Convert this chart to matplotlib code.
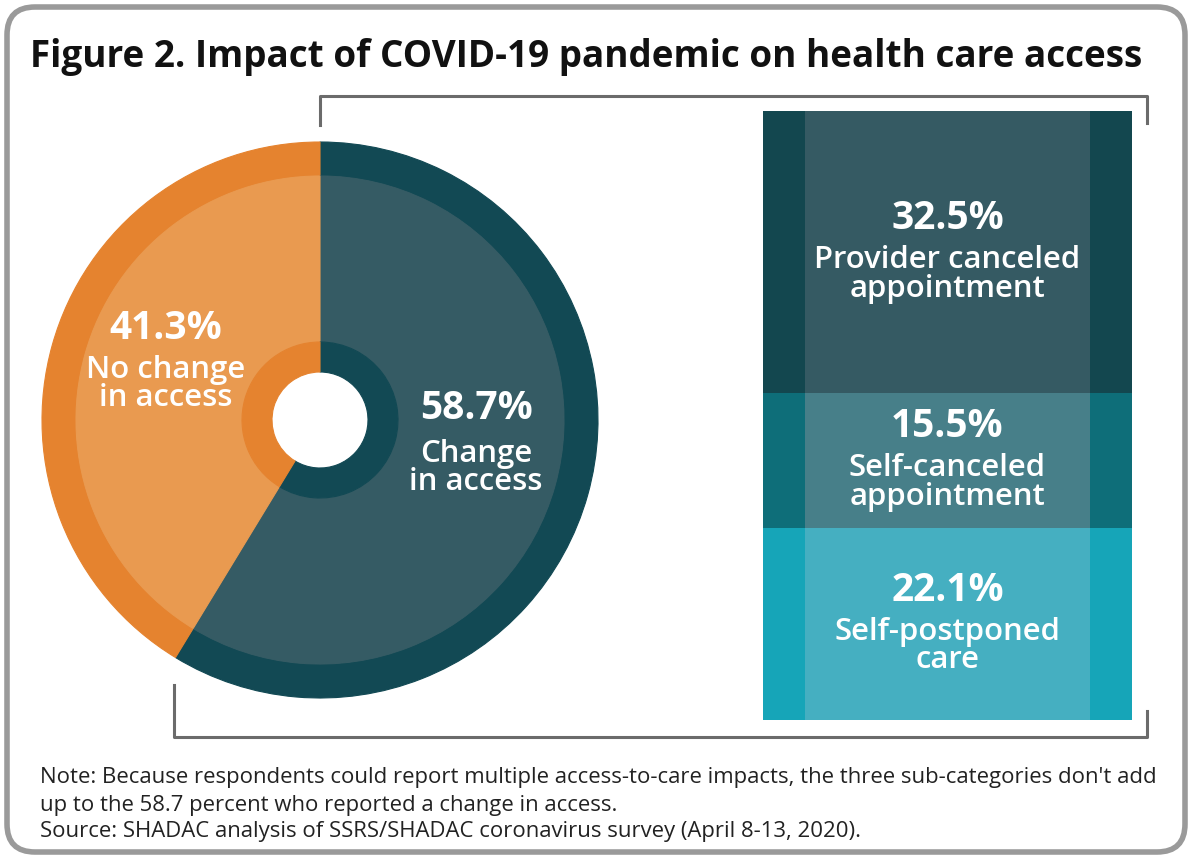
import matplotlib.pyplot as plt
from matplotlib.patches import FancyBboxPatch

plt.rcParams['font.family'] = ['Open Sans', 'DejaVu Sans']

# donut: overall access
access_labels = ["Change\nin access", "No change\nin access"]
access_values = [58.7, 41.3]

# stacked bar: kinds of change, top to bottom
impact_labels = ["Provider canceled\nappointment", "Self-canceled\nappointment", "Self-postponed\ncare"]
impact_values = [32.5, 15.5, 22.1]

title = "Figure 2. Impact of COVID-19 pandemic on health care access"
note_lines = [
    "Note: Because respondents could report multiple access-to-care impacts, the three sub-categories don't add",
    "up to the 58.7 percent who reported a change in access.",
    "Source: SHADAC analysis of SSRS/SHADAC coronavirus survey (April 8-13, 2020).",
]

W, H = 1192, 859
fig = plt.figure(figsize=(W / 100, H / 100), dpi=100)

# background axes in pixel units
bg = fig.add_axes([0, 0, 1, 1])
bg.set_xlim(0, W)
bg.set_ylim(H, 0)
bg.axis("off")

bg.add_patch(FancyBboxPatch((7, 7), W - 14, H - 14, boxstyle="round,pad=0,rounding_size=28",
                            fc="white", ec="#9a9a9a", lw=4))
bg.text(586, 57, title, ha="center", va="center", fontsize=26.6, fontweight="bold", color="#111111")

# brackets
gray = "#6b6b6b"
bg.plot([320, 320, 1147, 1147], [125, 96, 96, 123], color=gray, lw=2.2)
bg.plot([174, 174, 1147, 1147], [685, 737, 737, 711], color=gray, lw=2.2)

for i, line in enumerate(note_lines):
    bg.text(40, 778 + 27 * i, line, ha="left", va="center", fontsize=15.9, color="#222222")

# donut chart
cx, cy, R = 320, 420, 278
pie_ax = fig.add_axes([(cx - R) / W, (H - cy - R) / H, 2 * R / W, 2 * R / H])

dark = ["#124954", "#e5832f"]
light = ["#355b64", "#e99a50"]
r_outer, r_band, r_ring, r_hole = 1.0, 244 / R, 78 / R, 48 / R
for radius, inner, colors in [(r_outer, r_band, dark), (r_band, r_ring, light), (r_ring, r_hole, dark)]:
    wedges, _ = pie_ax.pie(access_values, colors=colors, startangle=90, counterclock=False,
                           radius=radius, wedgeprops=dict(width=radius - inner, lw=0.8))
    for w in wedges:
        w.set_edgecolor(w.get_facecolor())
pie_ax.set_xlim(-1, 1)
pie_ax.set_ylim(-1, 1)
pie_ax.axis("off")

# label anchors in pixels: (x, percent y, label block centre y)
pie_text = [(476, 409, 468), (166, 329, 384)]
for (x, yp, yl), val, lab in zip(pie_text, access_values, access_labels):
    pie_ax.text((x - cx) / R, (cy - yp) / R, f"{val}%", ha="center", va="center", color="white",
                fontsize=28, fontweight="bold")
    pie_ax.text((x - cx) / R, (cy - yl) / R, lab, ha="center", va="center", color="white",
                fontsize=22.4, fontweight="semibold", linespacing=0.95)

# stacked bar
bx0, bx1, by0, by1 = 763, 1132, 111, 720
bar_ax = fig.add_axes([bx0 / W, (H - by1) / H, (bx1 - bx0) / W, (by1 - by0) / H])

side_colors = ["#13474f", "#0e6e79", "#16a5b8"]
mid_colors = ["#355a63", "#477f89", "#45afc1"]
total = sum(impact_values)
px = total / (by1 - by0)
top = total
for val, lab, sc, mc in zip(impact_values, impact_labels, side_colors, mid_colors):
    bottom = top - val
    bar_ax.bar(0, val, bottom=bottom, width=1.0, color=sc, lw=0)
    bar_ax.bar(0, val, bottom=bottom, width=0.77, color=mc, lw=0)
    mid = bottom + val / 2
    bar_ax.text(0, mid + 34 * px, f"{val}%", ha="center", va="center", color="white",
                fontsize=28, fontweight="bold")
    bar_ax.text(0, mid - 22 * px, lab, ha="center", va="center", color="white",
                fontsize=22.4, fontweight="semibold", linespacing=0.95)
    top = bottom
bar_ax.set_xlim(-0.5, 0.5)
bar_ax.set_ylim(0, total)
bar_ax.axis("off")

fig.savefig("out.png", dpi=100)
